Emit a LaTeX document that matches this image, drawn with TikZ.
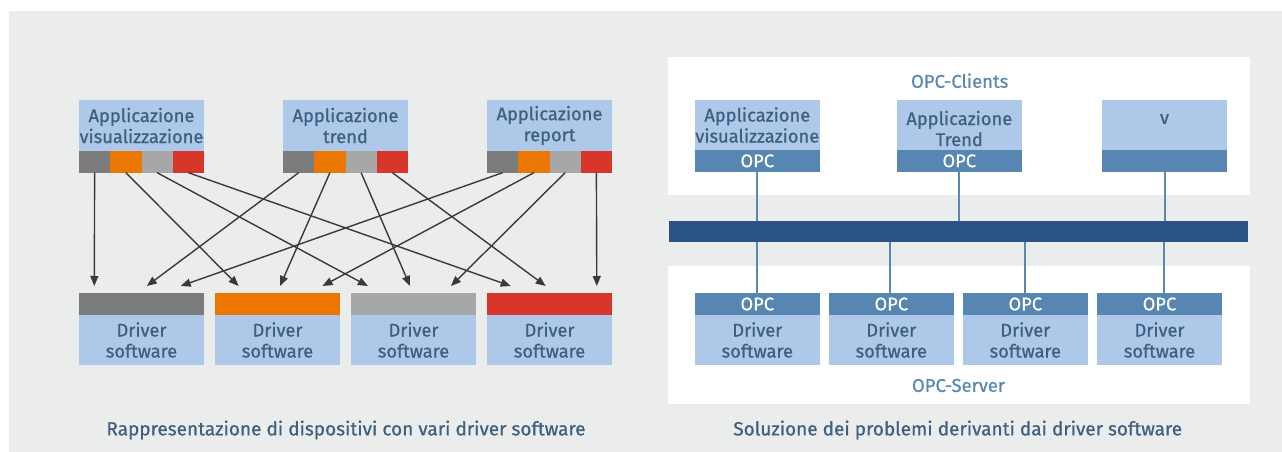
\documentclass[tikz,border=0pt]{standalone}
\usepackage{fontspec}
\setmainfont{Fira Sans}
\newfontfamily\medf{Fira Sans}[FakeBold=0.7]
\usetikzlibrary{arrows.meta,calc}
\definecolor{bggray}{HTML}{EBEDED}
\definecolor{lblue}{HTML}{ADC8E8}
\definecolor{mblue}{HTML}{5686B1}
\definecolor{dblue}{HTML}{2A5283}
\definecolor{txt}{HTML}{3E5F80}
\definecolor{ltxt}{HTML}{5A87B0}
\definecolor{sgray}{HTML}{7A7B7D}
\definecolor{sorange}{HTML}{EC7700}
\definecolor{slgray}{HTML}{A6A7A9}
\definecolor{sred}{HTML}{D9362A}
\definecolor{arr}{HTML}{3A3A3A}
\definecolor{wire}{HTML}{5B87B3}
\tikzset{
  box/.style={fill=lblue, inner sep=0pt, minimum width=125pt, text=txt, align=center,
     font=\medf\fontsize{18.3}{21}\selectfont},
  seg/.style={inner sep=0pt, minimum width=31.25pt, minimum height=21.5pt},
  drvtop/.style={inner sep=0pt, minimum width=125pt, minimum height=22pt},
  opcbar/.style={fill=mblue, inner sep=0pt, minimum width=125pt, minimum height=22pt, text=white,
     font=\medf\fontsize{18.3}{21}\selectfont},
  ar/.style={draw=arr, line width=1.4pt, -{Triangle[length=10pt,width=8pt]}},
  wln/.style={draw=wire, line width=2pt},
  captxt/.style={text=txt, font=\medf\fontsize{19}{22}\selectfont},
  lab/.style={text=ltxt, font=\medf\fontsize{18.5}{22}\selectfont},
  btxt/.style={text=txt, align=center, font=\medf\fontsize{18.3}{21}\selectfont},
}
\begin{document}
\begin{tikzpicture}[x=1pt,y=-1pt]
\useasboundingbox (0,0) rectangle (1282,452);
\fill[bggray] (9,11) rectangle (1282,452);

% ---------- left diagram ----------
\foreach \n/\x/\t in {1/79/{Applicazione\\visualizzazione},2/283/{Applicazione\\trend},3/487/{Applicazione\\report}}{
  \node[box, minimum height=51pt] (app\n) at (\x+62.5,125.5) {\t};
  \node[seg, fill=sgray]   (a\n g) at (\x+15.625,161.75) {};
  \node[seg, fill=sorange] (a\n o) at (\x+46.875,161.75) {};
  \node[seg, fill=slgray]  (a\n l) at (\x+78.125,161.75) {};
  \node[seg, fill=sred]    (a\n r) at (\x+109.375,161.75) {};
}
\foreach \n/\x/\c in {1/79/sgray,2/215/sorange,3/351/slgray,4/487/sred}{
  \node[drvtop, fill=\c] (dt\n) at (\x+62.5,304) {};
  \node[box, minimum height=50pt] (drv\n) at (\x+62.5,340) {Driver\\software};
}
% arrow targets
\coordinate (t11) at (94.3,286);
\coordinate (t12) at (146.8,286);
\coordinate (t13) at (180.7,286);
\coordinate (t21) at (238.6,286);
\coordinate (t22) at (280,286);
\coordinate (t23) at (322.5,286);
\coordinate (t31) at (367.9,286);
\coordinate (t32) at (410,286);
\coordinate (t33) at (451,286);
\coordinate (t41) at (510.7,286);
\coordinate (t42) at (545.7,286);
\coordinate (t43) at (596.8,286);
\draw[ar] (a1g.south) -- (t11);
\draw[ar] (a1o.south) -- (t21);
\draw[ar] (a1l.south) -- (t31);
\draw[ar] (a1r.south) -- (t41);
\draw[ar] (a2g.south) -- (t12);
\draw[ar] (a2o.south) -- (t22);
\draw[ar] (a2l.south) -- (t32);
\draw[ar] (a2r.south) -- (t42);
\draw[ar] (a3g.south) -- (t13);
\draw[ar] (a3o.south) -- (t23);
\draw[ar] (a3l.south) -- (t33);
\draw[ar] (a3r.south) -- (t43);

\node[captxt] (capL) at (346,430) {Rappresentazione di dispositivi con vari driver software};

% ---------- right diagram ----------
\fill[white] (667.7,56.7) rectangle (1250,195);
\fill[white] (667.7,266) rectangle (1250,403.7);
\node[lab] (clients) at (959.7,80.7) {OPC-Clients};
\node[lab] (server) at (958.5,385.5) {OPC-Server};

\node[box, minimum height=50pt] (c1) at (757.3,125) {Applicazione\\visualizzazione};
\node[box, minimum height=50pt] (c2) at (959.3,125) {};
\node[btxt] (c2t) at (959.3,128.5) {Applicazione\\Trend};
\node[box, minimum height=50pt] (c3) at (1164.5,125) {};
\node[btxt] (c3t) at (1164.5,119) {v};
\node[opcbar, minimum height=21.7pt] (co1) at (757.3,160.85) {OPC};
\node[opcbar, minimum height=21.7pt] (co2) at (959.3,160.85) {OPC};
\node[opcbar, minimum height=21.7pt] (co3) at (1164.5,160.85) {};

\node[fill=dblue, inner sep=0pt, minimum width=579pt, minimum height=21pt] (bus) at (958.5,231.5) {};

\foreach \n/\x in {1/757.3,2/891.3,3/1025.3,4/1159.5}{
  \node[opcbar] (so\n) at (\x,304) {OPC};
  \node[box, minimum height=50pt] (sd\n) at (\x,340) {Driver\\software};
}
\draw[wln] (co1.south) -- (co1.south |- bus.north);
\draw[wln] (co2.south) -- (co2.south |- bus.north);
\draw[wln] (co3.south) -- (co3.south |- bus.north);
\coordinate (w1) at (757,242);
\coordinate (w2) at (890.4,242);
\coordinate (w3) at (1024.7,242);
\coordinate (w4) at (1164,242);
\draw[wln] (w1) -- (w1 |- so1.north);
\draw[wln] (w2) -- (w2 |- so2.north);
\draw[wln] (w3) -- (w3 |- so3.north);
\draw[wln] (w4) -- (w4 |- so4.north);

\node[captxt] (capR) at (957.7,430) {Soluzione dei problemi derivanti dai driver software};
\end{tikzpicture}
\end{document}
